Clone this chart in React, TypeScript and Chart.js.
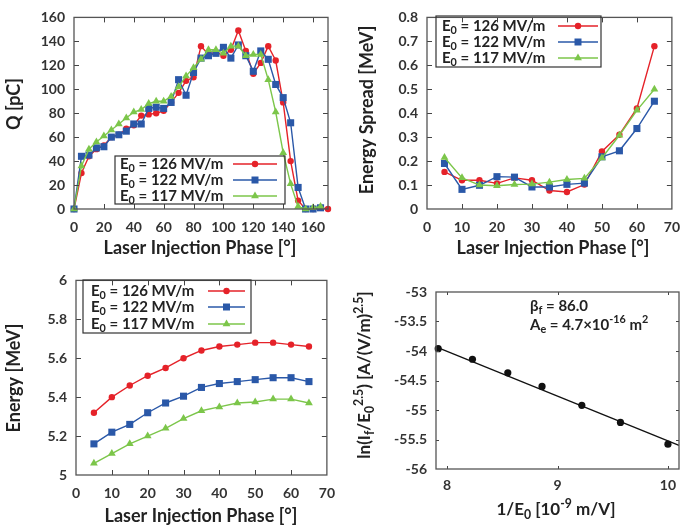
import React, { useEffect, useRef } from 'react';
import { Chart, registerables } from 'chart.js';
Chart.register(...registerables);

// ---------- Data ----------
const RED = '#e52229';
const BLUE = '#2a58a8';
const GREEN = '#7cc64a';

// Panel (a): charge vs laser injection phase
const phaseQ126 = [0,5,10,15,20,25,30,35,40,45,50,55,60,65,70,75,80,85,90,95,100,105,110,115,120,125,130,135,140,145,150,155,160,165,170];
const q126 = [0,30,44,50,53,60,62,67,70,78,79,80,82,89,97,107,110,136,129,131,128,133,149,132,113,122,136,124,89,40,7,0,0,1,0];
const phaseQ = [0,5,10,15,20,25,30,35,40,45,50,55,60,65,70,75,80,85,90,95,100,105,110,115,120,125,130,135,140,145,150,155,160,165];
const q122 = [0,44,45,51,52,60,62,65,71,71,84,85,84,89,108,95,114,126,128,130,135,126,137,128,115,132,125,104,93,72,18,0,0,1];
const q117 = [0,36,50,56,61,66,71,76,81,83,88,90,90,94,102,111,118,125,133,133,130,136,136,128,129,129,108,81,47,21,2,0,1,2];
const qXTicks = [0,20,40,60,80,100,120,140,160];
const qYTicks = [0,20,40,60,80,100,120,140,160];

// Panel (b): energy spread
const phaseB = [5,10,15,20,25,30,35,40,45,50,55,60,65];
const spread126 = [0.155,0.12,0.12,0.107,0.13,0.12,0.077,0.071,0.102,0.24,0.31,0.42,0.68];
const spread122 = [0.19,0.082,0.099,0.135,0.133,0.092,0.092,0.103,0.108,0.218,0.243,0.336,0.45];
const spread117 = [0.215,0.13,0.1,0.097,0.102,0.104,0.112,0.123,0.128,0.213,0.308,0.412,0.5];
const phaseXTicks = [0,10,20,30,40,50,60,70];
const spreadYTicks = [0,0.1,0.2,0.3,0.4,0.5,0.6,0.7,0.8];

// Panel (c): energy
const energy126 = [5.32,5.40,5.46,5.51,5.55,5.60,5.64,5.66,5.67,5.68,5.68,5.67,5.66];
const energy122 = [5.16,5.22,5.26,5.32,5.37,5.405,5.45,5.47,5.48,5.49,5.50,5.50,5.48];
const energy117 = [5.06,5.11,5.16,5.20,5.24,5.29,5.33,5.35,5.37,5.375,5.39,5.39,5.37];
const energyYTicks = [5,5.2,5.4,5.6,5.8,6];

// Panel (d): Fowler-Nordheim plot
const invE0 = [7.92,8.23,8.55,8.86,9.22,9.57,10.0];
const lnIE = [-53.96,-54.14,-54.37,-54.6,-54.92,-55.21,-55.58];
const fitX = [7.9,10.1];
const fitY = [-53.93,-55.6];
const fnXTicks = [8,9,10];
const fnYTicks = [-56,-55.5,-55,-54.5,-54,-53.5,-53];

const seriesLabels = ['E_{0} = 126 MV/m', 'E_{0} = 122 MV/m', 'E_{0} = 117 MV/m'];

// ---------- Helpers ----------
const FAMILY = 'Lato, "Open Sans", sans-serif';
const TXT = '#222';

type Seg = { t: string; m: number };
function parseRich(s: string): Seg[] {
  const out: Seg[] = [];
  let i = 0;
  let buf = '';
  while (i < s.length) {
    const c = s[i];
    if ((c === '_' || c === '^') && s[i + 1] === '{') {
      if (buf) { out.push({ t: buf, m: 0 }); buf = ''; }
      const end = s.indexOf('}', i);
      out.push({ t: s.slice(i + 2, end), m: c === '_' ? 1 : 2 });
      i = end + 1;
    } else { buf += c; i++; }
  }
  if (buf) out.push({ t: buf, m: 0 });
  return out;
}

function drawRich(ctx: CanvasRenderingContext2D, text: string, x: number, y: number, size: number, align: string, rot: number, color: string) {
  const segs = parseRich(text);
  const small = size * 0.72;
  const fontOf = (m: number) => `bold ${m ? small : size}px ${FAMILY}`;
  let total = 0;
  const widths = segs.map((s) => { ctx.font = fontOf(s.m); const w = ctx.measureText(s.t).width; total += w; return w; });
  ctx.save();
  ctx.translate(x, y);
  if (rot) ctx.rotate(rot);
  ctx.fillStyle = color;
  ctx.textBaseline = 'middle';
  ctx.textAlign = 'left';
  let cx = align === 'center' ? -total / 2 : 0;
  segs.forEach((s, i) => {
    ctx.font = fontOf(s.m);
    const dy = s.m === 1 ? size * 0.32 : s.m === 2 ? -size * 0.36 : 0;
    ctx.fillText(s.t, cx, dy);
    cx += widths[i];
  });
  ctx.restore();
}

function drawMarker(ctx: CanvasRenderingContext2D, style: string, x: number, y: number, color: string) {
  ctx.save();
  ctx.fillStyle = color;
  ctx.beginPath();
  if (style === 'circle') ctx.arc(x, y, 3.2, 0, Math.PI * 2);
  else if (style === 'rect') ctx.rect(x - 3.5, y - 3.5, 7, 7);
  else { ctx.moveTo(x, y - 4.5); ctx.lineTo(x + 3.9, y + 2.25); ctx.lineTo(x - 3.9, y + 2.25); ctx.closePath(); }
  ctx.fill();
  ctx.restore();
}

const decorPlugin = {
  id: 'decor',
  afterDraw(chart: any, _args: any, opts: any) {
    const ctx: CanvasRenderingContext2D = chart.ctx;
    const a = chart.chartArea;
    const xs = chart.scales.x;
    const ys = chart.scales.y;
    ctx.save();
    // inward tick marks
    ctx.strokeStyle = '#444';
    ctx.lineWidth = 1;
    const tl = opts.tickLen || 5;
    ctx.beginPath();
    (opts.xTicks || []).forEach((v: number) => {
      const px = Math.round(xs.getPixelForValue(v)) + 0.5;
      if (px <= a.left + 1 || px >= a.right - 1) return;
      ctx.moveTo(px, a.bottom); ctx.lineTo(px, a.bottom - tl);
      ctx.moveTo(px, a.top); ctx.lineTo(px, a.top + tl);
    });
    (opts.yTicks || []).forEach((v: number) => {
      const py = Math.round(ys.getPixelForValue(v)) + 0.5;
      if (py <= a.top + 1 || py >= a.bottom - 1) return;
      ctx.moveTo(a.left, py); ctx.lineTo(a.left + tl, py);
      ctx.moveTo(a.right, py); ctx.lineTo(a.right - tl, py);
    });
    ctx.stroke();
    // frame
    ctx.strokeStyle = '#555';
    ctx.lineWidth = 1.3;
    ctx.strokeRect(a.left, a.top, a.right - a.left, a.bottom - a.top);
    // legend
    const lg = opts.legend;
    if (lg) {
      ctx.strokeStyle = '#333';
      ctx.lineWidth = 1.2;
      ctx.strokeRect(lg.box[0], lg.box[1], lg.box[2] - lg.box[0], lg.box[3] - lg.box[1]);
      lg.rows.forEach((r: any, i: number) => {
        const y = lg.rowY[i];
        drawRich(ctx, r.text, lg.textX, y, 15, 'left', 0, TXT);
        ctx.strokeStyle = r.color;
        ctx.lineWidth = 1.4;
        ctx.beginPath();
        ctx.moveTo(lg.sx0, y); ctx.lineTo(lg.sx1, y);
        ctx.stroke();
        drawMarker(ctx, r.style, (lg.sx0 + lg.sx1) / 2, y, r.color);
      });
    }
    (opts.texts || []).forEach((t: any) => {
      drawRich(ctx, t.text, t.x, t.y, t.size, t.align || 'center', t.rot || 0, TXT);
    });
    ctx.restore();
  },
};

function pts(xs: number[], ys: number[]) {
  return xs.map((x, i) => ({ x, y: ys[i] }));
}

function fmt(v: number) {
  return String(Math.round(v * 10) / 10);
}

function ds(label: string, data: any[], color: string, style: string, radius: number, order: number) {
  return {
    label, data, borderColor: color, backgroundColor: color, borderWidth: 1.4,
    pointStyle: style, pointRadius: radius, pointBorderWidth: 0, showLine: true,
    clip: false, order, tension: 0,
  };
}

type Panel = {
  W: number; H: number;
  area: { l: number; t: number; r: number; b: number };
  xMin: number; xMax: number; xTicks: number[];
  yMin: number; yMax: number; yTicks: number[];
  datasets: any[];
  decor: any;
  xPad: number;
};

function makeConfig(p: Panel): any {
  const tickFont = { family: FAMILY, size: 14, weight: 'bold' as const };
  return {
    type: 'line',
    data: { datasets: p.datasets },
    options: {
      responsive: false,
      animation: false,
      events: [],
      layout: { padding: { left: 0, top: p.area.t, right: p.W - p.area.r, bottom: 0 } },
      plugins: { legend: { display: false }, tooltip: { enabled: false }, decor: p.decor },
      scales: {
        x: {
          type: 'linear', min: p.xMin, max: p.xMax,
          afterBuildTicks: (s: any) => { s.ticks = p.xTicks.map((v) => ({ value: v })); },
          afterFit: (s: any) => { s.height = p.H - p.area.b; },
          grid: { display: false, drawTicks: false },
          border: { display: false },
          ticks: { padding: p.xPad, color: '#333', font: tickFont, maxRotation: 0, autoSkip: false, callback: (v: number) => fmt(v) },
        },
        y: {
          type: 'linear', min: p.yMin, max: p.yMax,
          afterBuildTicks: (s: any) => { s.ticks = p.yTicks.map((v) => ({ value: v })); },
          afterFit: (s: any) => { s.width = p.area.l; },
          grid: { display: false, drawTicks: false },
          border: { display: false },
          ticks: { padding: 9, color: '#333', font: tickFont, autoSkip: false, callback: (v: number) => fmt(v) },
        },
      },
    },
    plugins: [decorPlugin],
  };
}

const legendRows = [
  { text: seriesLabels[0], color: RED, style: 'circle' },
  { text: seriesLabels[1], color: BLUE, style: 'rect' },
  { text: seriesLabels[2], color: GREEN, style: 'triangle' },
];

const ROT = -Math.PI / 2;

const panels: Panel[] = [
  {
    W: 345, H: 263,
    area: { l: 74, t: 14, r: 328, b: 209 },
    xMin: 0, xMax: 170, xTicks: qXTicks,
    yMin: 0, yMax: 160, yTicks: qYTicks,
    xPad: 10,
    datasets: [
      ds(seriesLabels[0], pts(phaseQ126, q126), RED, 'circle', 3.2, 2),
      ds(seriesLabels[1], pts(phaseQ, q122), BLUE, 'rect', 5, 1),
      ds(seriesLabels[2], pts(phaseQ, q117), GREEN, 'triangle', 4.5, 0),
    ],
    decor: {
      xTicks: qXTicks, yTicks: qYTicks,
      legend: { box: [115, 156, 285, 204], rowY: [164, 180, 196], textX: 120, sx0: 233, sx1: 277, rows: legendRows },
      texts: [
        { text: 'Q [pC]', x: 14, y: 104, size: 18, rot: ROT },
        { text: 'Laser Injection Phase [°]', x: 200, y: 248, size: 18 },
      ],
    },
  },
  {
    W: 345, H: 263,
    area: { l: 82, t: 14, r: 333, b: 209 },
    xMin: 0, xMax: 70, xTicks: phaseXTicks,
    yMin: 0, yMax: 0.8, yTicks: spreadYTicks,
    xPad: 10,
    datasets: [
      ds(seriesLabels[0], pts(phaseB, spread126), RED, 'circle', 3.2, 2),
      ds(seriesLabels[1], pts(phaseB, spread122), BLUE, 'rect', 5, 1),
      ds(seriesLabels[2], pts(phaseB, spread117), GREEN, 'triangle', 4.5, 0),
    ],
    decor: {
      xTicks: phaseXTicks, yTicks: spreadYTicks,
      legend: { box: [91, 16, 256, 67], rowY: [26, 42, 58], textX: 97, sx0: 213, sx1: 253, rows: legendRows },
      texts: [
        { text: 'Energy Spread [MeV]', x: 22, y: 110, size: 18, rot: ROT },
        { text: 'Laser Injection Phase [°]', x: 208, y: 248, size: 18 },
      ],
    },
  },
  {
    W: 345, H: 263,
    area: { l: 76, t: 17, r: 330, b: 212 },
    xMin: 0, xMax: 70, xTicks: phaseXTicks,
    yMin: 5, yMax: 6, yTicks: energyYTicks,
    xPad: 10,
    datasets: [
      ds(seriesLabels[0], pts(phaseB, energy126), RED, 'circle', 3.2, 2),
      ds(seriesLabels[1], pts(phaseB, energy122), BLUE, 'rect', 5, 1),
      ds(seriesLabels[2], pts(phaseB, energy117), GREEN, 'triangle', 4.5, 0),
    ],
    decor: {
      xTicks: phaseXTicks, yTicks: energyYTicks,
      legend: { box: [83, 17, 251, 70], rowY: [28, 44, 61], textX: 91, sx0: 208, sx1: 245, rows: legendRows },
      texts: [
        { text: 'Energy [MeV]', x: 14, y: 115, size: 18, rot: ROT },
        { text: 'Laser Injection Phase [°]', x: 201, y: 253, size: 18 },
      ],
    },
  },
  {
    W: 345, H: 263,
    area: { l: 91, t: 29, r: 334, b: 206 },
    xMin: 7.9, xMax: 10.1, xTicks: fnXTicks,
    yMin: -56, yMax: -53, yTicks: fnYTicks,
    xPad: 8,
    datasets: [
      { label: 'data', data: pts(invE0, lnIE), showLine: false, pointStyle: 'circle', pointRadius: 3.6, backgroundColor: '#111', borderColor: '#111', pointBorderWidth: 0, clip: false, order: 0 },
      { label: 'fit', data: pts(fitX, fitY), showLine: true, borderColor: '#111', borderWidth: 1.3, pointRadius: 0, clip: false, order: 1 },
    ],
    decor: {
      tickLen: 3,
      xTicks: fnXTicks, yTicks: fnYTicks,
      texts: [
        { text: 'ln(I_{f}/E_{0}^{2.5}) [A/(V/m)^{2.5}]', x: 20, y: 112, size: 17, rot: ROT },
        { text: '1/E_{0} [10^{-9} m/V]', x: 211, y: 247, size: 17 },
        { text: 'β_{f} = 86.0', x: 185, y: 43, size: 15, align: 'left' },
        { text: 'A_{e} = 4.7×10^{-16} m^{2}', x: 185, y: 62, size: 15, align: 'left' },
      ],
    },
  },
];

const positions = [
  { left: 0, top: 0 },
  { left: 345, top: 0 },
  { left: 0, top: 263 },
  { left: 345, top: 263 },
];

function PanelChart({ p, pos }: { p: Panel; pos: { left: number; top: number } }) {
  const ref = useRef<HTMLCanvasElement | null>(null);
  useEffect(() => {
    if (!ref.current) return;
    const chart = new Chart(ref.current, makeConfig(p));
    return () => chart.destroy();
  }, [p]);
  return (
    <canvas
      ref={ref}
      width={p.W}
      height={p.H}
      style={{ position: 'absolute', left: pos.left, top: pos.top, width: p.W, height: p.H }}
    />
  );
}

export default function App() {
  return (
    <div style={{ position: 'absolute', left: 0, top: 0, width: 690, height: 526, background: '#fff', overflow: 'hidden' }}>
      {panels.map((p, i) => (
        <PanelChart key={i} p={p} pos={positions[i]} />
      ))}
    </div>
  );
}
